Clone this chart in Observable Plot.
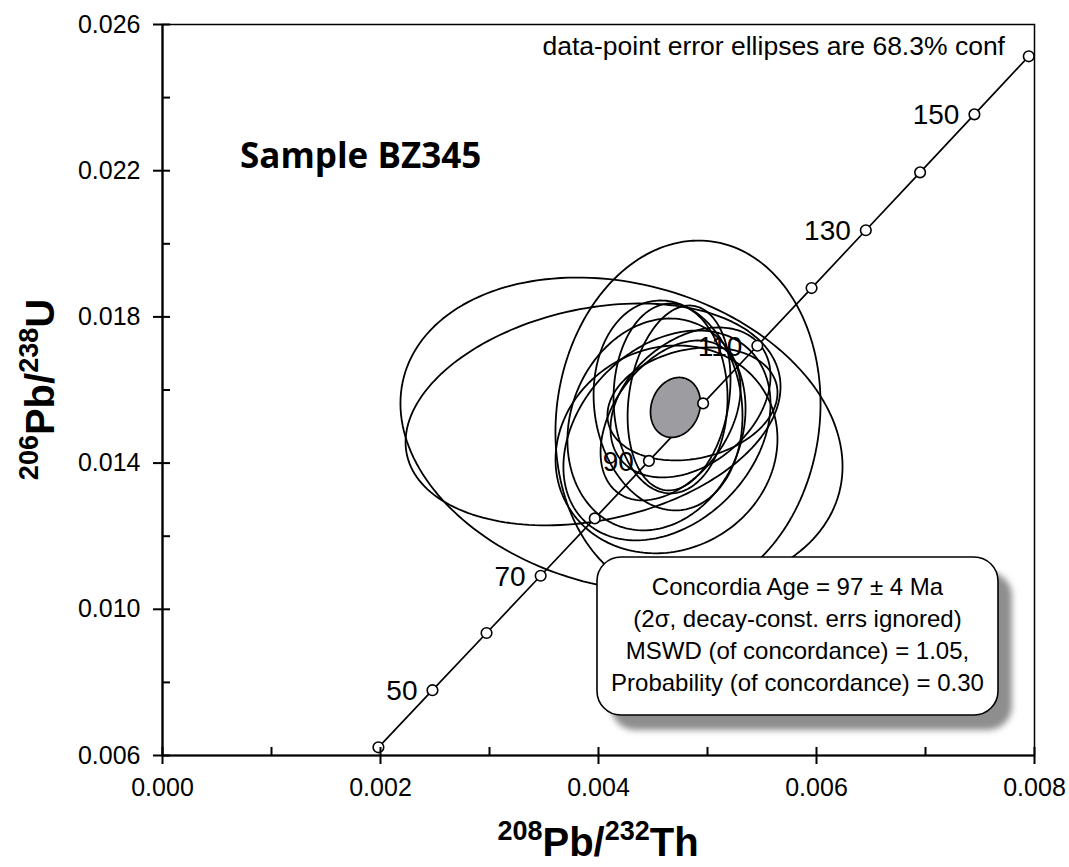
<!DOCTYPE html>
<html>
<head>
<meta charset="utf-8">
<script src="https://cdn.jsdelivr.net/npm/d3@7"></script>
<script src="https://cdn.jsdelivr.net/npm/@observablehq/plot@0.6"></script>
<style>
  body { margin: 0; background: #fff; }
  #chart { width: 1069px; height: 867px; }
</style>
</head>
<body>
<div id="chart"></div>
<script>
// Concordia curve: age marks (Ma) with their 208Pb/232Th and 206Pb/238U ratios
const concordiaAge = [40, 50, 60, 70, 80, 90, 100, 110, 120, 130, 140, 150, 160];
const concordiaX = [0.0019810, 0.0024768, 0.0029729, 0.0034693, 0.0039658, 0.0044627, 0.0049598,
                    0.0054571, 0.0059547, 0.0064525, 0.0069505, 0.0074488, 0.0079474];
const concordiaY = [0.0062243, 0.0077864, 0.0093510, 0.0109179, 0.0124873, 0.0140592, 0.0156335,
                    0.0172102, 0.0187893, 0.0203709, 0.0219550, 0.0235416, 0.0251306];
const labelledAges = [50, 70, 90, 110, 130, 150];

// Data-point error ellipses (68.3% conf): centre, x/y half-extent, x–y error correlation
const ellipseCx  = [0.004211, 0.003950, 0.004821, 0.004624, 0.004628, 0.004532, 0.004638, 0.004661, 0.004739, 0.004862, 0.004844, 0.004661];
const ellipseCy  = [0.014771, 0.015332, 0.015236, 0.014375, 0.014757, 0.015058, 0.015578, 0.015769, 0.015783, 0.015619, 0.015660, 0.015168];
const ellipseSx  = [0.002028, 0.001720, 0.001216, 0.001018, 0.000950, 0.000817, 0.000683, 0.000523, 0.000472, 0.000780, 0.000734, 0.000642];
const ellipseSy  = [0.004306, 0.003035, 0.004853, 0.002843, 0.002871, 0.002898, 0.002871, 0.002597, 0.002529, 0.001545, 0.002051, 0.002187];
const ellipseRho = [-0.20, 0.25, 0.08, 0.10, 0.30, 0.15, -0.10, 0.00, 0.20, 0.20, 0.35, 0.40];

// Concordia-age ellipse
const ageCx = 0.004706, ageCy = 0.015523, ageSx = 0.000229, ageSy = 0.000820, ageRho = 0.15;

// Axis ticks
const xMajor = [0, 0.002, 0.004, 0.006, 0.008];
const xMinor = [0.001, 0.003, 0.005, 0.007];
const yMajor = [0.006, 0.010, 0.014, 0.018, 0.022, 0.026];
const yMinor = [0.008, 0.012, 0.016, 0.020, 0.024];

// Result box text
const resultLines = [
  "Concordia Age = 97 \u00b1 4 Ma",
  "(2\u03c3, decay-const. errs ignored)",
  "MSWD (of concordance) = 1.05,",
  "Probability (of concordance) = 0.30"
];

// Outline of an error ellipse in data units from its parameters
function outline(id, cx, cy, sx, sy, rho) {
  const k = Math.sqrt(1 - rho * rho);
  return d3.range(0, 360, 2).map(a => {
    const t = a * Math.PI / 180;
    return {id, x: cx + sx * Math.cos(t), y: cy + sy * (rho * Math.cos(t) + k * Math.sin(t))};
  });
}

const ellipsePts = ellipseCx.flatMap((cx, i) =>
  outline(i, cx, ellipseCy[i], ellipseSx[i], ellipseSy[i], ellipseRho[i]));
const agePts = outline("age", ageCx, ageCy, ageSx, ageSy, ageRho);
const concordia = concordiaAge.map((age, i) => ({age, x: concordiaX[i], y: concordiaY[i]}));
const labelled = concordia.filter(d => labelledAges.includes(d.age));

const font = "'Liberation Sans', Arial, Helvetica, sans-serif";

const chart = Plot.plot({
  width: 1069,
  height: 867,
  marginLeft: 162,
  marginRight: 35,
  marginTop: 24,
  marginBottom: 112,
  x: {domain: [0, 0.008]},
  y: {domain: [0.006, 0.026]},
  style: {fontFamily: font, background: "white", color: "black", overflow: "visible"},
  marks: [
    Plot.line(ellipsePts, {x: "x", y: "y", z: "id", stroke: "black", strokeWidth: 1.8, curve: "linear-closed"}),
    Plot.line(concordia, {x: "x", y: "y", stroke: "black", strokeWidth: 1.7}),
    Plot.line(agePts, {x: "x", y: "y", fill: "#9c9ca1", stroke: "black", strokeWidth: 1.7, curve: "linear-closed"}),
    Plot.dot(concordia, {x: "x", y: "y", r: 5.3, fill: "white", stroke: "black", strokeWidth: 1.6}),
    Plot.text(labelled, {x: "x", y: "y", text: d => String(d.age), textAnchor: "end", dx: -15, dy: 1, fontSize: 28, fill: "black"}),
    Plot.frame({stroke: "black", strokeWidth: 1.5}),
    Plot.ruleX([0], {stroke: "black", strokeWidth: 2.2}),
    Plot.ruleY([0.006], {stroke: "black", strokeWidth: 2.2}),
    Plot.axisX({ticks: xMajor, tickSize: 9, tickPadding: 14, tickFormat: d3.format(".3f"), fontSize: 25, label: null, strokeWidth: 2}),
    Plot.axisX({ticks: xMajor.concat(xMinor), tickSize: -8, tickFormat: () => "", label: null, strokeWidth: 2}),
    Plot.axisY({ticks: yMajor, tickSize: 9, tickPadding: 13, tickFormat: d3.format(".3f"), fontSize: 25, label: null, strokeWidth: 2}),
    Plot.axisY({ticks: yMajor.concat(yMinor), tickSize: -8, tickFormat: () => "", label: null, strokeWidth: 2})
  ]
});

document.getElementById("chart").appendChild(chart);

const svg = d3.select(chart);
const sx = chart.scale("x"), sy = chart.scale("y");

// Sample name and confidence note
svg.append("text")
  .attr("x", 240).attr("y", 168)
  .attr("text-anchor", "start")
  .attr("font-family", "'Open Sans', 'Noto Sans', sans-serif")
  .attr("font-weight", 700).attr("font-size", 35)
  .text("Sample BZ345");

svg.append("text")
  .attr("x", sx.apply(0.008) - 29).attr("y", 55)
  .attr("text-anchor", "end")
  .attr("font-family", font).attr("font-size", 26.5)
  .text("data-point error ellipses are 68.3% conf");

// Result box with drop shadow
const defs = svg.append("defs");
defs.append("filter").attr("id", "soft").attr("x", "-10%").attr("y", "-10%").attr("width", "120%").attr("height", "120%")
  .append("feGaussianBlur").attr("stdDeviation", 3);

const bx = sx.apply(0.004) - 1, by = 557, bw = 401, bh = 158;
svg.append("rect")
  .attr("x", bx + 14).attr("y", by + 15).attr("width", bw).attr("height", bh)
  .attr("rx", 24).attr("fill", "#8e8e8e").attr("filter", "url(#soft)");
svg.append("rect")
  .attr("x", bx).attr("y", by).attr("width", bw).attr("height", bh)
  .attr("rx", 24).attr("fill", "white").attr("stroke", "black").attr("stroke-width", 1.6);
svg.append("g")
  .attr("font-family", font).attr("font-size", 24).attr("text-anchor", "middle")
  .selectAll("text").data(resultLines).join("text")
  .attr("x", bx + bw / 2).attr("y", (d, i) => 595 + i * 32)
  .text(d => d);

// Axis titles with isotope superscripts
function isotopeTitle(g, parts) {
  const t = g.append("text")
    .attr("font-family", font).attr("font-weight", "bold").attr("text-anchor", "middle");
  parts.forEach(([s, sup], i) => {
    t.append("tspan")
      .attr("font-size", sup ? 27 : 40)
      .attr("dy", i === 0 ? (sup ? -16 : 0) : (sup ? -16 : 16))
      .text(s);
  });
  return t;
}

const xTitle = svg.append("g").attr("transform", `translate(${(sx.apply(0) + sx.apply(0.008)) / 2},856)`);
isotopeTitle(xTitle, [["208", true], ["Pb/", false], ["232", true], ["Th", false]]);

const yTitle = svg.append("g").attr("transform", `translate(54,${(sy.apply(0.006) + sy.apply(0.026)) / 2}) rotate(-90)`);
isotopeTitle(yTitle, [["206", true], ["Pb/", false], ["238", true], ["U", false]]);
</script>
</body>
</html>
